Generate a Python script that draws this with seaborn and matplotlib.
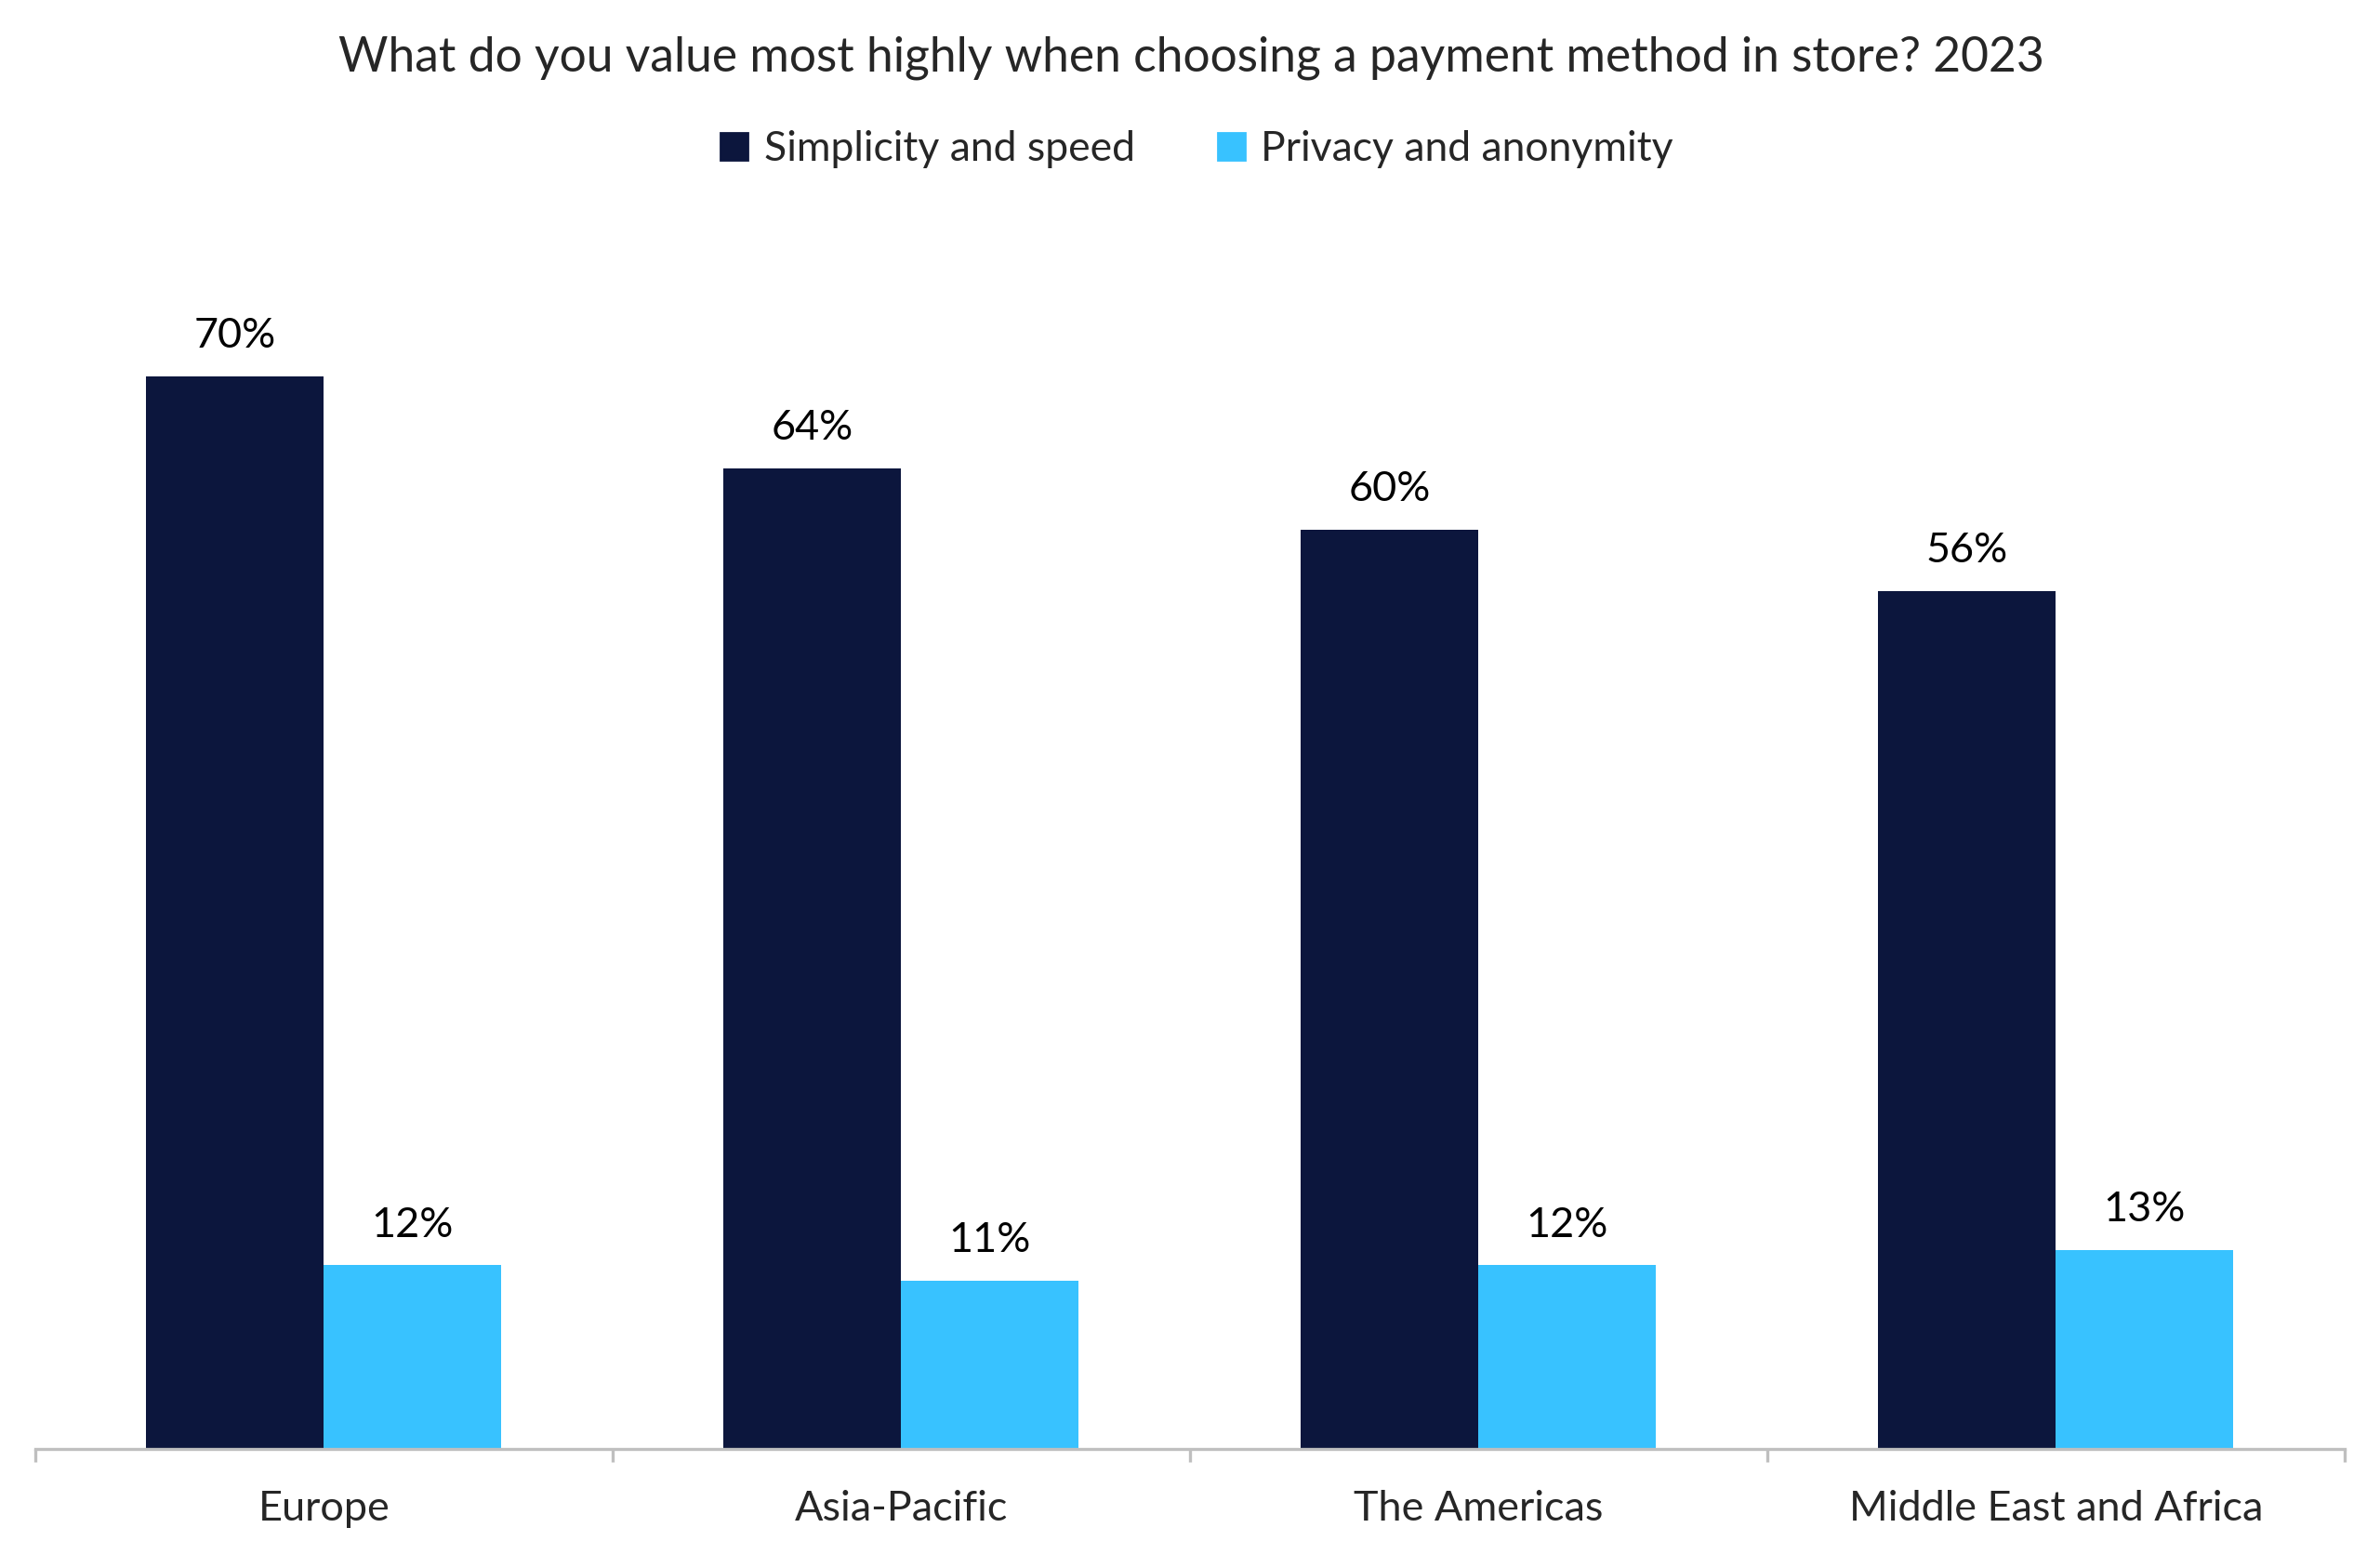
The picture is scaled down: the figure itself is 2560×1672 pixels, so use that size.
import matplotlib
matplotlib.use("Agg")
import matplotlib.pyplot as plt
import seaborn as sns
import pandas as pd

regions = ["Europe", "Asia-Pacific", "The Americas", "Middle East and Africa"]
series = ["Simplicity and speed", "Privacy and anonymity"]
simplicity = [70, 64, 60, 56]
privacy = [12, 11, 12, 13]
colors = ["#0C163D", "#38C2FF"]

df = pd.DataFrame({
    "region": regions * 2,
    "series": [series[0]] * 4 + [series[1]] * 4,
    "value": simplicity + privacy,
})

sns.set_style("white")
plt.rcParams["font.family"] = ["Lato", "DejaVu Sans"]

fig = plt.figure(figsize=(12.8, 8.36), dpi=200)
ax = fig.add_axes([0.0148, 0.0676, 0.9703, 0.789])

sns.barplot(data=df, x="region", y="value", hue="series", palette=colors,
            width=0.615, saturation=1, linewidth=0, ax=ax, legend=False)

for c in ax.containers:
    ax.bar_label(c, labels=[f"{v:.0f}%" for v in c.datavalues],
                 padding=8, fontsize=16.2, color="black")

ax.set_ylim(0, 80)
ax.set_xlim(-0.5, 3.5)
ax.set_xlabel("")
ax.set_ylabel("")
ax.set_yticks([])
for s in ["top", "right", "left"]:
    ax.spines[s].set_visible(False)
ax.spines["bottom"].set_color("#BFBFBF")
ax.spines["bottom"].set_linewidth(1.2)

# ticks at category boundaries
ax.set_xticks([-0.5, 0.5, 1.5, 2.5, 3.5], minor=True)
ax.tick_params(axis="x", which="minor", length=5, width=1.2, color="#BFBFBF",
               direction="out", bottom=True)
ax.tick_params(axis="x", which="major", length=0, labelsize=16.2, pad=16)

fig.text(0.5005, 0.963, "What do you value most highly when choosing a payment method in store? 2023",
         ha="center", va="center", fontsize=18.6)

handles = [plt.Rectangle((0, 0), 1, 1, color=c) for c in colors]
fig.legend(handles, series, loc="center", bbox_to_anchor=(0.503, 0.904), ncol=2,
           frameon=False, fontsize=16.0, handlelength=0.65, handleheight=0.65,
           handletextpad=0.4, columnspacing=2.0)

fig.savefig("out.png", dpi=200)
